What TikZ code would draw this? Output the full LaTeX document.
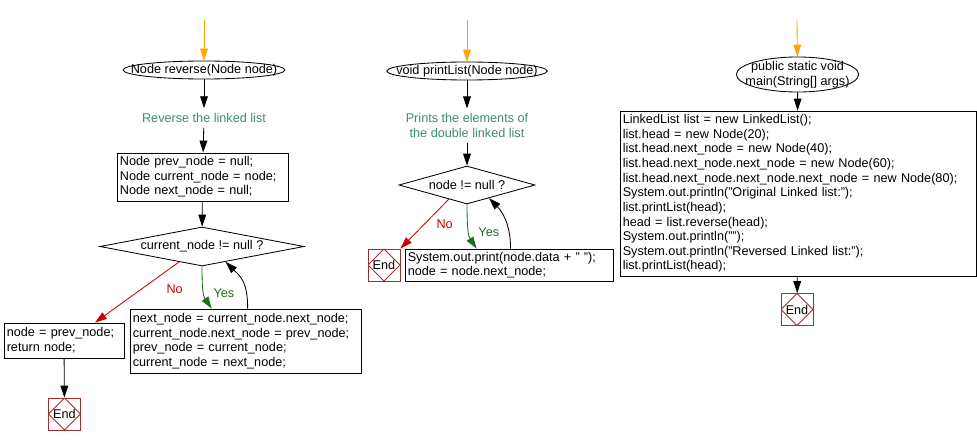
\documentclass[tikz,border=0pt]{standalone}
\usepackage{fontspec}
\setmainfont{Liberation Sans}
\usetikzlibrary{arrows.meta,shapes.geometric}

\begin{document}
\begin{tikzpicture}[
  x=0.025cm,y=-0.025cm,semithick,
  >={Triangle[length=8.5pt,width=5.5pt]},
  font=\fontsize{9pt}{10.4pt}\selectfont,
  terminal/.style={draw,ellipse,inner ysep=0pt,align=center},
  stmt/.style={draw,rectangle,inner sep=2pt,align=left},
  cond/.style={draw,diamond,inner sep=0pt},
  note/.style={text=notec,align=center},
  endbox/.style={draw=endc,rectangle,minimum size=0.8cm,inner sep=0pt,
    path picture={\draw[endc] (path picture bounding box.north)
      -- (path picture bounding box.east) -- (path picture bounding box.south)
      -- (path picture bounding box.west) -- cycle;}},
  flow/.style={->},
  entry/.style={->,draw=entryc},
  yesline/.style={->,draw=yesc},
  noline/.style={->,draw=noc},
  lab/.style={font=\fontsize{9pt}{10pt}\selectfont}]

  \definecolor{entryc}{RGB}{255,165,0}
  \definecolor{notec}{RGB}{61,140,110}
  \definecolor{yesc}{RGB}{30,110,30}
  \definecolor{noc}{RGB}{204,0,0}
  \definecolor{endc}{RGB}{160,48,48}

  \useasboundingbox (0,0) rectangle (977,446);

  % reverse()
  \coordinate (in1) at (204,20);
  \node[terminal,inner xsep=-0.4cm,minimum height=0.45cm] (rev) at (204,70)
    {Node reverse(Node node)};
  \node[note] (revnote) at (204,118) {Reverse the linked list};
  \node[stmt,text width=4.13cm,minimum height=1.2cm] (init) at (202.5,177)
    {Node prev\_node = null;\\
     Node current\_node = node;\\
     Node next\_node = null;};
  \node[cond,minimum width=5.1cm,minimum height=0.975cm,aspect=5.2] (loop1) at (202,246.5)
    {current\_node != null ?};
  \node[stmt,text width=2.86cm,minimum height=0.875cm] (ret) at (64,340.5)
    {node = prev\_node;\\
     return node;};
  \node[stmt,text width=5.63cm,minimum height=1.6cm] (body1) at (245.5,341)
    {next\_node = current\_node.next\_node;\\
     current\_node.next\_node = prev\_node;\\
     prev\_node = current\_node;\\
     current\_node = next\_node;};
  \node[endbox] (end1) at (64.5,414) {End};

  \draw[entry] (in1) -- (rev);
  \draw[flow] (rev) -- (revnote);
  \draw[flow] (revnote) -- (init);
  \draw[flow] (init) -- (loop1);
  \draw[noline] (loop1.-146) -- ([xshift=0.775cm]ret.north)
    node[lab,text=noc,pos=0.5,xshift=0.94cm,yshift=0.08cm] {No};
  \draw[yesline] (loop1.south) .. controls +(0,28) and +(-8,-12) .. ([xshift=2.05cm]body1.north west)
    node[lab,text=yesc,pos=0.5,xshift=0.5cm] {Yes};
  \draw[flow] ([xshift=2.95cm]body1.north west) .. controls +(0,-28) and +(14,14) .. (loop1.-33);
  \draw[flow] (ret) -- (end1);

  % printList()
  \coordinate (in2) at (467,20);
  \node[terminal,inner xsep=-0.35cm,minimum height=0.45cm] (prn) at (467,71)
    {void printList(Node node)};
  \node[note] (prnnote) at (467,125.5) {Prints the elements of\\the double linked list};
  \node[cond,minimum width=3.4cm,minimum height=0.95cm,aspect=3.6] (loop2) at (467,185)
    {node != null ?};
  \node[endbox] (end2) at (384,265) {End};
  \node[stmt,text width=5.06cm,minimum height=0.8cm] (body2) at (509,265)
    {System.out.print(node.data + " ");\\
     node = node.next\_node;};

  \draw[entry] (in2) -- (prn);
  \draw[flow] (prn) -- (prnnote);
  \draw[flow] (prnnote) -- (loop2);
  \draw[noline] (loop2.-142) -- (end2.north east)
    node[lab,text=noc,pos=0.5,xshift=0.5cm] {No};
  \draw[yesline] (loop2.south) .. controls +(0,26) and +(-8,-12) .. ([xshift=1.8cm]body2.north west)
    node[lab,text=yesc,pos=0.5,xshift=0.5cm] {Yes};
  \draw[flow] ([xshift=2.65cm]body2.north west) .. controls +(0,-26) and +(12,12) .. (loop2.-31);

  % main()
  \coordinate (in3) at (797,20);
  \node[terminal,inner xsep=-0.22cm,inner ysep=-0.03cm,minimum height=0.875cm] (main) at (797.5,74.5)
    {public static void\\main(String[] args)};
  \node[stmt,text width=8.76cm,minimum height=4.125cm] (mainbody) at (798,193.5)
    {LinkedList list = new LinkedList();\\
     list.head = new Node(20);\\
     list.head.next\_node = new Node(40);\\
     list.head.next\_node.next\_node = new Node(60);\\
     list.head.next\_node.next\_node.next\_node = new Node(80);\\
     System.out.println("Original Linked list:");\\
     list.printList(head);\\
     head = list.reverse(head);\\
     System.out.println("");\\
     System.out.println("Reversed Linked list:");\\
     list.printList(head);};
  \node[endbox] (end3) at (797,309.5) {End};

  \draw[entry] (in3) -- (main);
  \draw[flow] (main) -- (mainbody);
  \draw[flow] (mainbody) -- (end3);
\end{tikzpicture}
\end{document}
